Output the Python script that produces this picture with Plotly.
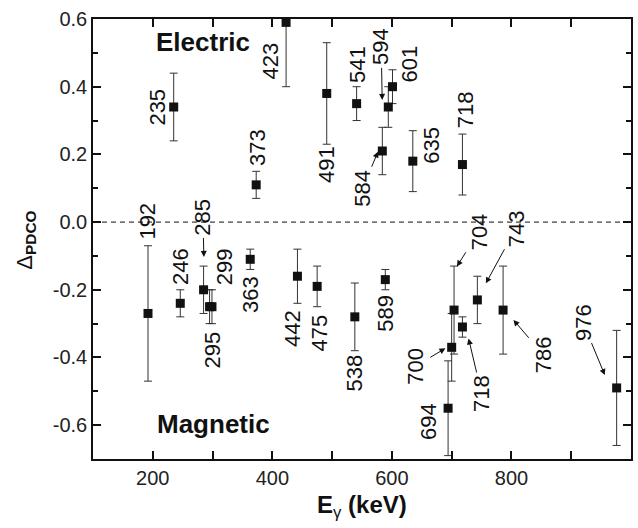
import plotly.graph_objects as go

# ---- data ----
e_energy = [235, 373, 423, 491, 541, 584, 594, 601, 635, 718]
e_delta = [0.34, 0.11, 0.59, 0.38, 0.35, 0.21, 0.34, 0.40, 0.18, 0.17]
e_err = [0.10, 0.04, 0.19, 0.15, 0.05, 0.07, 0.06, 0.05, 0.09, 0.09]

m_energy = [192, 246, 285, 295, 299, 363, 442, 475, 538, 589, 694, 700, 704, 718, 743, 786, 976]
m_delta = [-0.27, -0.24, -0.20, -0.25, -0.25, -0.11, -0.16, -0.19, -0.28, -0.17,
           -0.55, -0.37, -0.26, -0.31, -0.23, -0.26, -0.49]
m_err = [0.20, 0.04, 0.07, 0.05, 0.05, 0.03, 0.08, 0.06, 0.10, 0.03,
         0.14, 0.10, 0.13, 0.03, 0.07, 0.13, 0.17]

x_tickvals = [200, 400, 600, 800]
x_ticktext = ["200", "400", "600", "800"]
y_tickvals = [-0.6, -0.4, -0.2, 0.0, 0.2, 0.4, 0.6]
y_ticktext = ["-0.6", "-0.4", "-0.2", "0.0", "0.2", "0.4", "0.6"]

# label text, label centre (data coords)
plain_labels = [
    ("235", 207.5, 0.339), ("373", 376.2, 0.219), ("423", 396.3, 0.475),
    ("491", 491.7, 0.169), ("541", 542.2, 0.465), ("601", 630.0, 0.468),
    ("635", 666.7, 0.228), ("718", 723.3, 0.332),
    ("192", 191.8, 0.004), ("246", 247.5, -0.132), ("299", 320.0, -0.132),
    ("295", 299.7, -0.378), ("363", 364.5, -0.215), ("442", 433.8, -0.314),
    ("475", 478.3, -0.329), ("538", 536.7, -0.447), ("589", 589.5, -0.269),
    ("694", 662.5, -0.590),
]
# label text, arrow tip (data coords), text offset from tip (px)
arrow_labels = [
    ("285", 285.5, -0.103, -1, -40),
    ("594", 583.8, 0.361, -1, -53),
    ("584", 576.7, 0.208, -15, 36),
    ("700", 689.5, -0.373, -30, 18),
    ("704", 708.8, -0.131, 22, -35),
    ("743", 757.2, -0.181, 30, -55),
    ("718", 728.3, -0.344, 13, 55),
    ("786", 803.3, -0.289, 30, 35),
    ("976", 956.2, -0.452, -22, -53),
]

FONT = "Liberation Sans, Arial, sans-serif"
INK = "#111111"

fig = go.Figure()
for xs, ys, es in [(e_energy, e_delta, e_err), (m_energy, m_delta, m_err)]:
    fig.add_trace(go.Scatter(
        x=xs, y=ys, mode="markers",
        marker=dict(symbol="square", size=9, color=INK),
        error_y=dict(type="data", array=es, visible=True, color="#333333",
                     thickness=1, width=4),
        showlegend=False,
    ))

fig.add_shape(type="line", xref="paper", yref="y", x0=0, x1=1, y0=0, y1=0,
              line=dict(color=INK, width=1, dash="5px,4px"), layer="below")

for txt, x, y in plain_labels:
    fig.add_annotation(x=x, y=y, text=txt, showarrow=False, textangle=-90,
                       font=dict(family=FONT, size=22, color=INK),
                       xanchor="center", yanchor="middle")
for txt, x, y, ax, ay in arrow_labels:
    fig.add_annotation(x=x, y=y, text=txt, showarrow=True, ax=ax, ay=ay,
                       textangle=-90, arrowhead=2, arrowsize=1.2, arrowwidth=1,
                       arrowcolor=INK, standoff=0, startstandoff=1,
                       font=dict(family=FONT, size=22, color=INK))

fig.add_annotation(x=284.5, y=0.531, text="<b>Electric</b>", showarrow=False,
                   xanchor="center", yanchor="middle",
                   font=dict(family=FONT, size=26, color=INK))
fig.add_annotation(x=300.8, y=-0.597, text="<b>Magnetic</b>", showarrow=False,
                   xanchor="center", yanchor="middle",
                   font=dict(family=FONT, size=26, color=INK))

fig.add_annotation(xref="paper", yref="paper", x=-0.125, y=0.498,
                   text="Δ<sub><b>PDCO</b></sub>", showarrow=False, textangle=-90,
                   xanchor="center", yanchor="middle",
                   font=dict(family=FONT, size=22, color=INK))
fig.add_annotation(xref="paper", yref="paper", x=0.5, y=-0.108,
                   text="<b>E</b><sub>γ</sub><b> (keV)</b>", showarrow=False,
                   xanchor="center", yanchor="middle",
                   font=dict(family=FONT, size=24, color=INK))

axis_common = dict(showline=True, linecolor=INK, linewidth=1.5, mirror="ticks",
                   ticks="inside", tickcolor=INK, tickwidth=1.5, showgrid=False,
                   zeroline=False, tickfont=dict(family=FONT, size=20, color="#222222"))
fig.update_xaxes(range=[100, 1000], tickmode="array", tickvals=x_tickvals,
                 ticktext=x_ticktext, ticklen=8,
                 minor=dict(tickmode="linear", tick0=100, dtick=100, ticks="inside",
                            ticklen=8, tickwidth=1.5, tickcolor=INK, showgrid=False),
                 **axis_common)
fig.update_yaxes(range=[-0.7, 0.6], tickmode="array", tickvals=y_tickvals,
                 ticktext=y_ticktext, ticklen=8,
                 minor=dict(tickmode="linear", tick0=0, dtick=0.1, ticks="inside",
                            ticklen=5, tickwidth=1.5, tickcolor=INK, showgrid=False),
                 **axis_common)

fig.update_layout(width=638, height=528, plot_bgcolor="white", paper_bgcolor="white",
                  margin=dict(l=93, r=5, t=19, b=69))
fig.write_html("out.html")
